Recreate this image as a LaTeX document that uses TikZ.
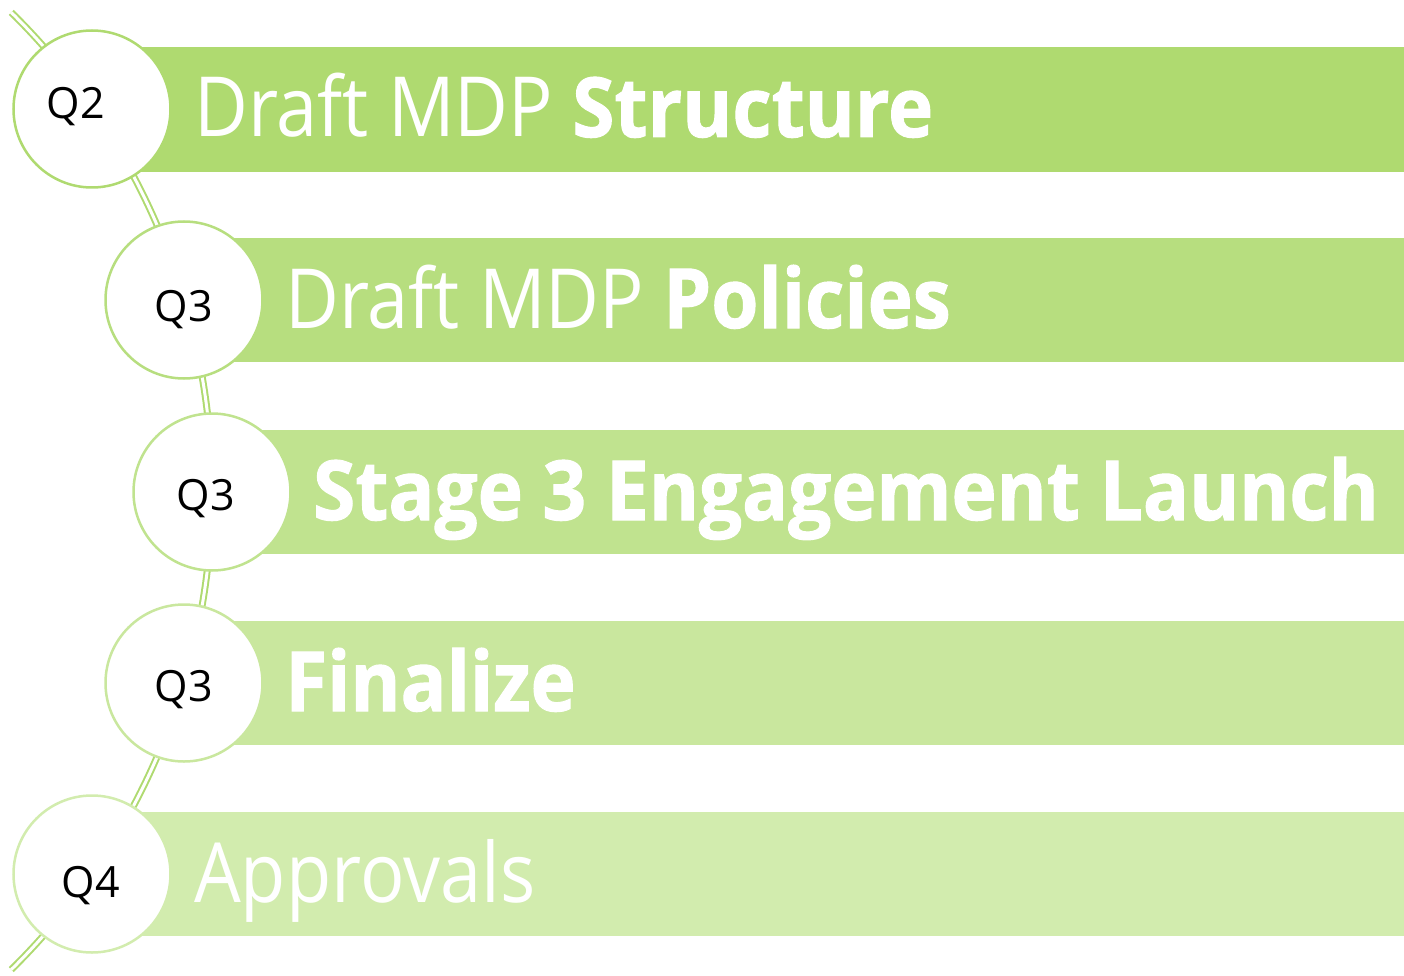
\documentclass[tikz,border=0pt]{standalone}
\usepackage{fontspec}
\setmainfont{Open Sans}[FakeStretch=0.89,
    BoldFeatures={FakeStretch=0.92, FakeBold=1.2}]
\newfontfamily\qfont{Open Sans}
\definecolor{barA}{RGB}{175,218,112}
\definecolor{barB}{RGB}{183,222,127}
\definecolor{barC}{RGB}{192,227,143}
\definecolor{barD}{RGB}{201,231,158}
\definecolor{barE}{RGB}{210,236,174}

\begin{document}
\begin{tikzpicture}[x=1pt,y=-1pt,
    quarter/.style={circle, fill=white, line width=2.5pt, minimum size=157pt,
        inner sep=0pt},
    qtext/.style={anchor=base, inner sep=0pt, font=\qfont\fontsize{43}{43}\selectfont},
    bartext/.style={anchor=base west, text=white, inner sep=0pt,
        font=\fontsize{83}{83}\selectfont}]
    \useasboundingbox (0,0) rectangle (1404,976);

    % Timeline arc behind the circles
    \draw[barA, line width=2pt, double=white, double distance=3pt]
        (-459,491) ++(-45.5:671) arc[start angle=-45.5, end angle=45.5, radius=671];

    % Row 1 - Q2
    \fill[barA] (92,47) rectangle (1404,172);
    \node[quarter, draw=barA] (q1) at (92,109) {};
    \node[qtext] (l1) at (76,119) {Q2};
    \node[bartext] (t1) at (194,137) {Draft MDP \textbf{Structure}};

    % Row 2 - Q3
    \fill[barB] (184,238) rectangle (1404,362);
    \node[quarter, draw=barB] (q2) at (184,300) {};
    \node[qtext] (l2) at (184,321) {Q3};
    \node[bartext] (t2) at (285,328) {Draft MDP \textbf{Policies}};

    % Row 3 - Q3
    \fill[barC] (212,430) rectangle (1404,554);
    \node[quarter, draw=barC] (q3) at (212,492) {};
    \node[qtext] (l3) at (206,510) {Q3};
    \node[bartext] (t3) at (313,520) {\textbf{Stage 3 Engagement Launch}};

    % Row 4 - Q3
    \fill[barD] (184,621) rectangle (1404,745);
    \node[quarter, draw=barD] (q4) at (184,683) {};
    \node[qtext] (l4) at (184,701) {Q3};
    \node[bartext] (t4) at (285,711) {\textbf{Finalize}};

    % Row 5 - Q4
    \fill[barE] (92,812) rectangle (1404,936);
    \node[quarter, draw=barE] (q5) at (92,874) {};
    \node[qtext] (l5) at (91,897) {Q4};
    \node[bartext] (t5) at (194,902) {Approvals};
\end{tikzpicture}
\end{document}
